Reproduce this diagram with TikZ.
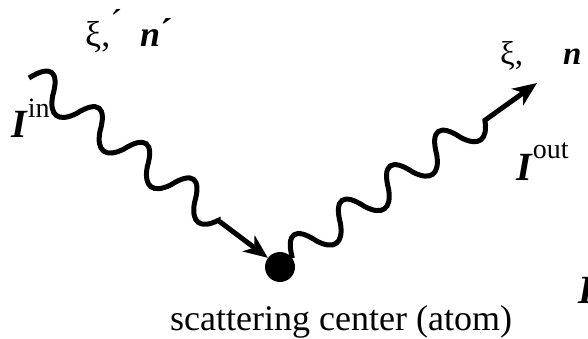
\documentclass[tikz,border=0pt]{standalone}
\usepackage{fontspec}
\setmainfont{Liberation Serif}
\usepackage{tikz}
\usetikzlibrary{positioning,arrows.meta,decorations,decorations.pathmorphing}
\newcommand{\bvec}[1]{\textbf{\textit{#1}}}
% round-capped wave, one hump per state
\pgfdeclaredecoration{photonwave}{up}{
  \state{up}[width=29.6pt, next state=down,
             switch if less than=14pt to final]{
    \pgfpathcurveto{\pgfqpoint{9pt}{24pt}}{\pgfqpoint{20.6pt}{24pt}}
                   {\pgfqpoint{29.6pt}{0pt}}
  }
  \state{down}[width=29.6pt, next state=up,
               switch if less than=14pt to final]{
    \pgfpathcurveto{\pgfqpoint{9pt}{-18pt}}{\pgfqpoint{20.6pt}{-18pt}}
                   {\pgfqpoint{29.6pt}{0pt}}
  }
  \state{final}{\pgfpathlineto{\pgfpointdecoratedpathlast}}
}
\tikzset{
  % --- photon lines (wavy part, then a straight run into the tip) ---
  photon/.style={line width=5pt, draw=black, decorate,
                 decoration={photonwave, post length=#1}},
  photon/.default=62pt,
  photontip/.style={-{Stealth[length=24pt,width=20pt,inset=7pt]}},
  % --- scattering center ---
  atomdot/.style={circle, fill=black, draw=none, minimum size=30pt,
                  inner sep=0pt},
  % --- labels ---
  biglabel/.style={inner sep=0pt, anchor=base west,
                   font=\fontsize{40}{44}\selectfont},
  midlabel/.style={inner sep=0pt, anchor=base west,
                   font=\fontsize{36}{40}\selectfont},
  toplabel/.style={inner sep=0pt, anchor=base west,
                   font=\fontsize{33}{36}\selectfont},
}
\begin{document}
\begin{tikzpicture}[x=1pt,y=-1pt]
  \useasboundingbox (0,0) rectangle (588,339);
  \node[atomdot] (atom) at (280,267) {};
  \coordinate (instart) at (29,78);
  \coordinate (outtip) at (537,83);
  % incoming and scattered waves
  \draw[photon=62pt, photontip] (instart) -- (atom);
  \draw[photon=64pt, photontip] (atom) -- (outtip);
  % labels
  \node[biglabel] (iin) at (11,138)
        {\bvec{I}\raisebox{20pt}{\fontsize{28}{30}\selectfont in}};
  \node[midlabel] (pin) at (85,47)
        {ξ,\raisebox{12pt}{´}\hspace{18pt}\bvec{n}\raisebox{3pt}{\textbf{´}}};
  \node[toplabel] (pout) at (500,65) {ξ,\hspace{40pt}\bvec{n}};
  \node[biglabel] (iout) at (516,180)
        {\bvec{I}\raisebox{22pt}{\fontsize{28}{30}\selectfont out}};
  \node[biglabel] (icut) at (578,303) {\bvec{I}};
  \node[midlabel] (caption) at (170,330) {scattering center (atom)};
\end{tikzpicture}
\end{document}
